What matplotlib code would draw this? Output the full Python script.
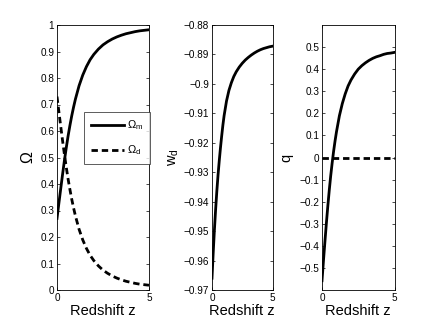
import matplotlib
matplotlib.use("Agg")
import matplotlib.pyplot as plt

plt.rcParams['font.family'] = ['Liberation Sans', 'DejaVu Sans']
plt.rcParams['mathtext.fontset'] = 'custom'
plt.rcParams['mathtext.rm'] = 'Liberation Sans'
plt.rcParams['mathtext.it'] = 'Liberation Sans'

# Redshift grid
z = [0, 0.1, 0.2, 0.3, 0.4, 0.5, 0.6, 0.7, 0.8, 0.9, 1.0, 1.2, 1.4, 1.6, 1.8, 2.0,
     2.25, 2.5, 2.75, 3.0, 3.25, 3.5, 3.75, 4.0, 4.25, 4.5, 4.75, 5.0]
# Density parameters
omega_m = [0.270, 0.326, 0.381, 0.435, 0.487, 0.535, 0.580, 0.620, 0.657, 0.690, 0.720,
           0.771, 0.811, 0.843, 0.869, 0.889, 0.909, 0.925, 0.937, 0.947, 0.955, 0.9615,
           0.967, 0.971, 0.975, 0.978, 0.980, 0.982]
omega_d = [0.730, 0.674, 0.619, 0.565, 0.513, 0.465, 0.420, 0.380, 0.343, 0.310, 0.280,
           0.229, 0.189, 0.157, 0.131, 0.111, 0.091, 0.075, 0.063, 0.053, 0.045, 0.0385,
           0.033, 0.029, 0.025, 0.022, 0.020, 0.018]
# Dark energy EoS
w_d = [-0.966, -0.9573, -0.9495, -0.9426, -0.9364, -0.9309, -0.9261, -0.9217, -0.9177,
       -0.9140, -0.9108, -0.9058, -0.9022, -0.8996, -0.8975, -0.8959, -0.8943, -0.8930,
       -0.8919, -0.8910, -0.8902, -0.8895, -0.8889, -0.8884, -0.8880, -0.8877, -0.8874,
       -0.8872]
# Deceleration parameter
q = [-0.558, -0.468, -0.382, -0.299, -0.221, -0.149, -0.083, -0.025, 0.028, 0.075, 0.117,
     0.189, 0.244, 0.288, 0.324, 0.351, 0.378, 0.400, 0.416, 0.429, 0.440, 0.449, 0.456,
     0.461, 0.467, 0.471, 0.473, 0.476]
q_ref_z = [0, 5]
q_ref = [0.0, 0.0]

omega_ticks = [0, 0.1, 0.2, 0.3, 0.4, 0.5, 0.6, 0.7, 0.8, 0.9, 1]
omega_ticklabels = ['0', '0.1', '0.2', '0.3', '0.4', '0.5', '0.6', '0.7', '0.8', '0.9', '1']
w_ticks = [-0.97, -0.96, -0.95, -0.94, -0.93, -0.92, -0.91, -0.90, -0.89, -0.88]
w_ticklabels = ['\u22120.97', '\u22120.96', '\u22120.95', '\u22120.94', '\u22120.93',
                '\u22120.92', '\u22120.91', '\u22120.9', '\u22120.89', '\u22120.88']
q_ticks = [-0.5, -0.4, -0.3, -0.2, -0.1, 0, 0.1, 0.2, 0.3, 0.4, 0.5]
q_ticklabels = ['\u22120.5', '\u22120.4', '\u22120.3', '\u22120.2', '\u22120.1', '0',
                '0.1', '0.2', '0.3', '0.4', '0.5']
z_ticks = [0, 5]
z_ticklabels = ['0', '5']

W, H = 436, 328
fig = plt.figure(figsize=(W / 100, H / 100), dpi=100)

def box(l, r, t, b):
    return [l / W, 1 - b / H, (r - l) / W, (b - t) / H]

ax1 = fig.add_axes(box(57, 149, 25, 290))
ax2 = fig.add_axes(box(212, 272.5, 25, 290))
ax3 = fig.add_axes(box(322, 394.5, 25, 290))

lw = 2.0
dash = (0, (2.3, 1.4))

ax1.plot(z, omega_m, color='black', lw=lw, label=r'$\Omega_{\rm m}$')
ax1.plot(z, omega_d, color='black', lw=lw, linestyle=dash, label=r'$\Omega_{\rm d}$')
ax1.set_ylim(0, 1)
ax1.set_yticks(omega_ticks)
ax1.set_yticklabels(omega_ticklabels)
ax1.set_ylabel(r'$\Omega$', fontsize=11.5, labelpad=3)
leg = ax1.legend(loc='upper left', bbox_to_anchor=((84 - 57) / 92, (290 - 112) / 265),
                 fontsize=8, frameon=True, fancybox=False, handlelength=3.0,
                 borderpad=0.6, labelspacing=1.0, handletextpad=0.3, borderaxespad=0)
leg.get_frame().set_edgecolor('#333333')
leg.get_frame().set_linewidth(0.7)

ax2.plot(z, w_d, color='black', lw=lw)
ax2.set_ylim(-0.97, -0.88)
ax2.set_yticks(w_ticks)
ax2.set_yticklabels(w_ticklabels)
ax2.set_ylabel(r'w$_{\rm d}$', fontsize=10.5, labelpad=2)

ax3.plot(z, q, color='black', lw=lw)
ax3.plot(q_ref_z, q_ref, color='black', lw=lw, linestyle=dash)
ax3.set_ylim(-0.6, 0.6)
ax3.set_yticks(q_ticks)
ax3.set_yticklabels(q_ticklabels)
ax3.set_ylabel('q', fontsize=10.5, labelpad=4)

for ax in (ax1, ax2, ax3):
    ax.set_xlim(0, 5)
    ax.set_xticks(z_ticks)
    ax.set_xticklabels(z_ticklabels)
    ax.set_xlabel('Redshift z', fontsize=10.5, labelpad=1)
    ax.tick_params(direction='in', length=2.5, width=0.5, labelsize=7.2, pad=2,
                   right=True, top=True)
    for s in ax.spines.values():
        s.set_linewidth(0.6)

fig.savefig('out.png', dpi=100, facecolor='white')
